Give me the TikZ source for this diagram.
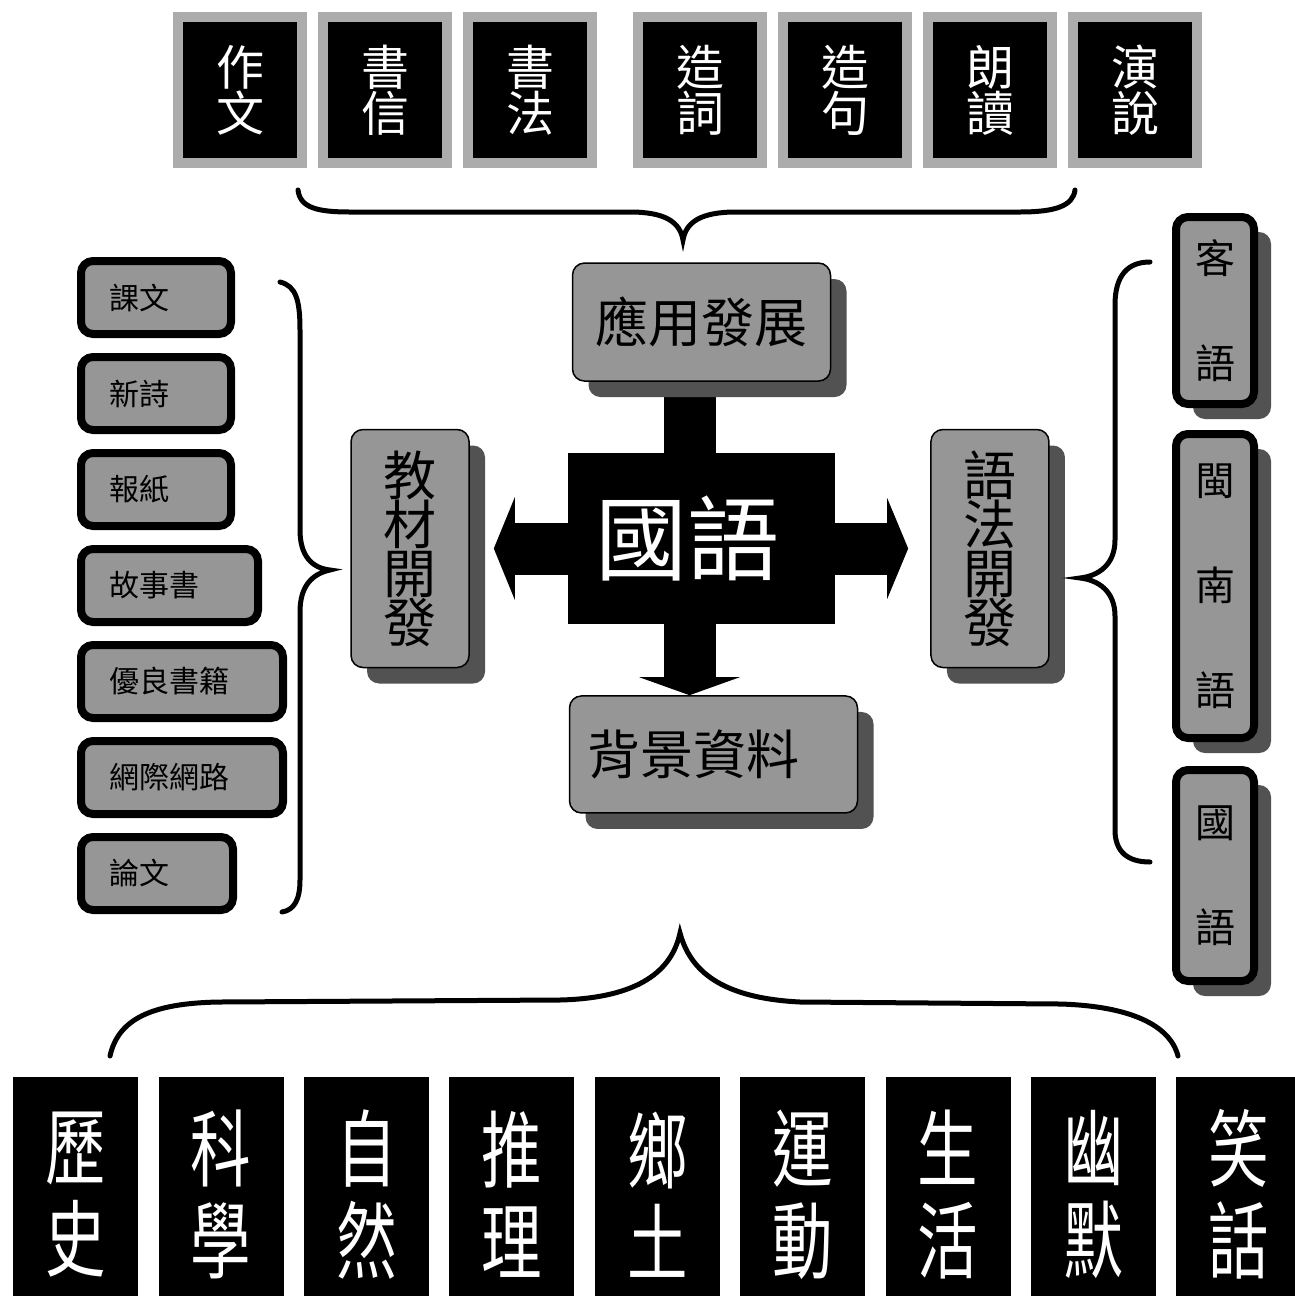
\documentclass[tikz,border=0pt]{standalone}
\usepackage{fontspec}
\newfontfamily\cjk{Noto Sans CJK TC}
\newfontfamily\cjknarrow[FakeStretch=0.72]{Noto Sans CJK TC}
\usepackage{tikz}
\usetikzlibrary{arrows.meta,positioning,shadows,backgrounds}
\definecolor{FrameGray}{RGB}{172,172,172}
\definecolor{BoxGray}{RGB}{150,150,150}
\definecolor{ShadeGray}{RGB}{82,82,82}

\begin{document}
\begin{tikzpicture}[x=1pt,y=-1pt,
  topbox/.style={fill=black,draw=FrameGray,line width=10pt,minimum width=124pt,minimum height=146pt,inner sep=0pt,text=white,align=center,font=\cjk\fontsize{48}{46}\selectfont},
  listbox/.style={fill=BoxGray,draw=black,line width=8pt,rounded corners=12pt,minimum height=73pt,inner xsep=28pt,inner ysep=0pt,text width=#1,align=left,font=\cjk\fontsize{30}{30}\selectfont},
  langbox/.style={fill=BoxGray,draw=black,line width=8pt,rounded corners=12pt,minimum width=78pt,minimum height=#1,inner sep=0pt,align=center,font=\cjk\fontsize{40}{105}\selectfont,drop shadow={shadow xshift=17pt,shadow yshift=-15pt,fill=ShadeGray,opacity=1}},
  stagebox/.style={fill=BoxGray,draw=black,line width=1.5pt,rounded corners=12pt,inner sep=0pt,align=center,font=\cjk\fontsize{53}{49}\selectfont,drop shadow={shadow xshift=16pt,shadow yshift=-16pt,fill=ShadeGray,opacity=1}},
  topicbox/.style={fill=black,minimum width=125pt,minimum height=235pt,inner sep=0pt,text=white,align=center,font=\cjknarrow\fontsize{84}{92}\selectfont},
  bracket/.style={line width=5pt,line cap=round},
  bigarrow/.style={line width=52pt,-{Triangle[length=18pt,width=100pt]}},
  bigdouble/.style={line width=52pt,{Triangle[length=21pt,width=102pt]}-{Triangle[length=21pt,width=100pt]}}]
  \useasboundingbox (0,0) rectangle (1294,1296);

  % top row
  \node[topbox] (zuowen) at (240,90) {作\\文};
  \node[topbox,right=11pt of zuowen] (shuxin) {書\\信};
  \node[topbox,right=11pt of shuxin] (shufa) {書\\法};
  \node[topbox,right=36pt of shufa] (zaoci) {造\\詞};
  \node[topbox,right=11pt of zaoci] (zaoju) {造\\句};
  \node[topbox,right=11pt of zaoju] (langdu) {朗\\讀};
  \node[topbox,right=11pt of langdu] (yanshuo) {演\\說};

  % left list
  \node[listbox=94pt,anchor=north west] (kewen) at (77,257) {課文};
  \node[listbox=94pt,below=15pt of kewen.south west,anchor=north west] (xinshi) {新詩};
  \node[listbox=94pt,below=15pt of xinshi.south west,anchor=north west] (baozhi) {報紙};
  \node[listbox=121pt,below=15pt of baozhi.south west,anchor=north west] (gushishu) {故事書};
  \node[listbox=146pt,below=15pt of gushishu.south west,anchor=north west] (youliang) {優良書籍};
  \node[listbox=146pt,below=15pt of youliang.south west,anchor=north west] (wangji) {網際網路};
  \node[listbox=96pt,below=15pt of wangji.south west,anchor=north west] (lunwen) {論文};

  % centre
  \node[fill=black,minimum width=267pt,minimum height=171pt,inner sep=0pt,text=white,font=\cjk\fontsize{92}{92}\selectfont] (guoyu) at (701.5,538.5) {國語\hspace*{28pt}};
  \node[stagebox,minimum width=258pt,minimum height=118pt,above=71pt of guoyu] (yingyong) {應用發展};
  \node[stagebox,minimum width=288pt,minimum height=117pt,below=71pt of guoyu,xshift=12pt] (beijing) {背景資料\hspace*{40pt}};
  \node[stagebox,minimum width=118pt,minimum height=238pt,left=98pt of guoyu,yshift=-10pt] (jiaocai) {教\\材\\開\\發};
  \node[stagebox,minimum width=118pt,minimum height=238pt,right=95pt of guoyu,yshift=-10pt] (yufa) {語\\法\\開\\發};
  \coordinate (shaft) at ([xshift=-12pt]yingyong.south);

  \begin{scope}[on background layer]
    \draw[bigarrow] (shaft) -- (shaft |- beijing.north);
    \draw[bigdouble,shorten <=24pt,shorten >=22pt] (jiaocai) -- (yufa);
  \end{scope}

  % right list
  \node[langbox=187pt] (keyu) at (1215,310.5) {客\\語};
  \node[langbox=304pt,below=22pt of keyu] (minnan) {閩\\南\\語};
  \node[langbox=211pt,below=24pt of minnan] (guoyuR) {國\\語};

  % bottom row
  \node[topicbox,anchor=north west] (lishi) at (13,1077) {歷\\史};
  \node[topicbox,right=20pt of lishi] (kexue) {科\\學};
  \node[topicbox,right=20pt of kexue] (ziran) {自\\然};
  \node[topicbox,right=20pt of ziran] (tuili) {推\\理};
  \node[topicbox,right=20pt of tuili] (xiangtu) {鄉\\土};
  \node[topicbox,right=20pt of xiangtu] (yundong) {運\\動};
  \node[topicbox,right=20pt of yundong] (shenghuo) {生\\活};
  \node[topicbox,right=20pt of shenghuo] (youmo) {幽\\默};
  \node[topicbox,right=20pt of youmo] (xiaohua) {笑\\話};

  % braces
  \draw[bracket] (298,190) .. controls (300,208) and (318,212) .. (350,212) -- (630,212)
    .. controls (665,212) and (680,222) .. (683,240) .. controls (686,222) and (701,212) .. (736,212)
    -- (1020,212) .. controls (1055,212) and (1073,206) .. (1075,190);
  \draw[bracket] (280,282) .. controls (296,286) and (300,300) .. (300,330) -- (300,530)
    .. controls (300,556) and (312,568) .. (330,570) .. controls (312,574) and (300,586) .. (300,612)
    -- (300,880) .. controls (300,900) and (294,910) .. (282,912);
  \draw[bracket] (1150,262) .. controls (1128,262) and (1115,275) .. (1115,305) -- (1115,540)
    .. controls (1115,565) and (1098,576) .. (1080,578) .. controls (1098,580) and (1115,591) .. (1115,616)
    -- (1115,830) .. controls (1115,852) and (1128,862) .. (1150,862);
  \draw[bracket] (110,1056) .. controls (118,1020) and (150,1003) .. (220,1002) -- (560,1000)
    .. controls (640,998) and (672,970) .. (680,933) .. controls (690,970) and (720,998) .. (800,1002)
    -- (1060,1004) .. controls (1130,1006) and (1170,1025) .. (1178,1056);
\end{tikzpicture}
\end{document}
